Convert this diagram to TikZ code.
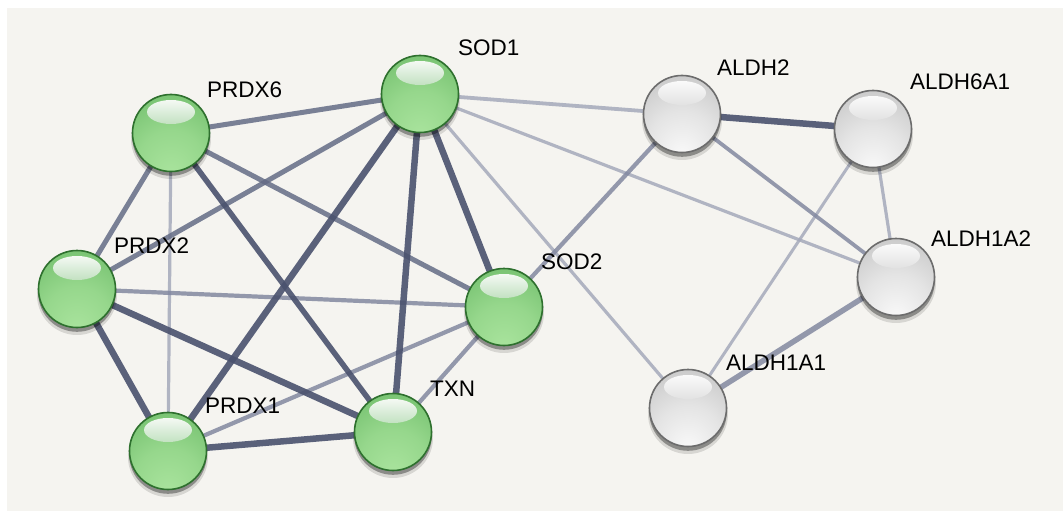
\documentclass[tikz,border=0pt]{standalone}
\usepackage{fontspec}
\setmainfont{Liberation Sans}
\usetikzlibrary{fadings}
\definecolor{bggray}{RGB}{245,244,240}
\definecolor{gA}{RGB}{170,228,158}
\definecolor{gA2}{RGB}{150,215,140}
\definecolor{gB}{RGB}{104,184,100}
\definecolor{gC}{RGB}{76,152,76}
\definecolor{grim}{RGB}{46,112,46}
\definecolor{ghl}{RGB}{98,178,94}
\definecolor{hA}{RGB}{250,250,250}
\definecolor{hA2}{RGB}{228,228,228}
\definecolor{hB}{RGB}{188,188,188}
\definecolor{hC}{RGB}{142,142,142}
\definecolor{hrim}{RGB}{108,108,108}
\definecolor{hhl}{RGB}{180,180,180}
\definecolor{edark}{RGB}{74,82,110}
\definecolor{emid}{RGB}{100,108,134}
\definecolor{elite}{RGB}{130,136,160}
\definecolor{efaint}{RGB}{165,169,186}
\pgfdeclareradialshading{greenshade}{\pgfpoint{0bp}{-28bp}}{color(0bp)=(gA); color(22bp)=(gA2); color(50bp)=(gB); color(80bp)=(gC)}
\pgfdeclareradialshading{grayshade}{\pgfpoint{0bp}{-28bp}}{color(0bp)=(hA); color(22bp)=(hA2); color(50bp)=(hB); color(80bp)=(hC)}
\pgfdeclarelayer{bg}
\pgfdeclarelayer{edges}
\pgfdeclarelayer{shadowlayer}
\pgfsetlayers{bg,edges,shadowlayer,main}
\tikzset{
  ballbase/.style={circle, minimum size=77pt, inner sep=0pt, line width=1.6pt,
    path picture={\shade[top color=white, bottom color=#1]
      ([yshift=21pt]path picture bounding box.center) ellipse [x radius=24pt, y radius=12pt];}},
  greenball/.style={ballbase=ghl, shade, shading=greenshade, draw=grim},
  grayball/.style={ballbase=hhl, shade, shading=grayshade, draw=hrim},
  ballshadow/.style={fill=black, fill opacity=0.35},
  ballshadowsoft/.style={fill=black, fill opacity=0.12},
  lbl/.style={anchor=west, inner sep=0pt, text=black, font=\fontsize{22.5}{27}\selectfont},
  ethick/.style={draw=edark, line width=6.5pt, draw opacity=0.9},
  emedium/.style={draw=emid, line width=5pt, draw opacity=0.85},
  elight/.style={draw=elite, line width=4.2pt, draw opacity=0.85},
  efaintl/.style={draw=efaint, line width=3.2pt, draw opacity=0.85}
}
\begin{document}
\begin{tikzpicture}[x=1pt, y=-1pt]
\useasboundingbox (0,0) rectangle (1063,511);
\begin{pgfonlayer}{bg}
  \fill[white] (0,0) rectangle (1063,511);
  \fill[bggray] (7,8) rectangle (1063,511);
\end{pgfonlayer}
% nodes
\node[greenball] (SOD1) at (420,94) {};
\node[greenball] (PRDX6) at (171,133) {};
\node[greenball] (PRDX2) at (77,289) {};
\node[greenball] (PRDX1) at (168,451) {};
\node[greenball] (TXN) at (393,432) {};
\node[greenball] (SOD2) at (504,307) {};
\node[grayball] (ALDH2) at (682,114) {};
\node[grayball] (ALDH6A1) at (873,129) {};
\node[grayball] (ALDH1A2) at (896,277) {};
\node[grayball] (ALDH1A1) at (688,408) {};
% shadows
\begin{pgfonlayer}{shadowlayer}
  \foreach \n in {SOD1,PRDX6,PRDX2,PRDX1,TXN,SOD2,ALDH2,ALDH6A1,ALDH1A2,ALDH1A1}{
    \fill[ballshadowsoft] ([yshift=-6pt]\n.center) circle (40pt);
    \fill[ballshadow] ([yshift=-4pt]\n.center) circle (38.8pt);
  }
\end{pgfonlayer}
% edges
\begin{pgfonlayer}{edges}
  \draw[efaintl] (SOD1.center) -- (ALDH1A1.center);
  \draw[efaintl] (SOD1.center) -- (ALDH1A2.center);
  \draw[efaintl, line width=3.8pt] (SOD1.center) -- (ALDH2.center);
  \draw[efaintl] (ALDH6A1.center) -- (ALDH1A2.center);
  \draw[efaintl, line width=3pt] (ALDH6A1.center) -- (ALDH1A1.center);
  \draw[elight, line width=3.8pt] (ALDH2.center) -- (ALDH1A2.center);
  \draw[efaintl] (PRDX6.center) -- (PRDX1.center);
  \draw[elight] (ALDH2.center) -- (SOD2.center);
  \draw[elight, line width=5.5pt] (ALDH1A2.center) -- (ALDH1A1.center);
  \draw[elight] (PRDX2.center) -- (SOD2.center);
  \draw[elight] (PRDX1.center) -- (SOD2.center);
  \draw[elight] (TXN.center) -- (SOD2.center);
  \draw[emedium] (PRDX6.center) -- (SOD1.center);
  \draw[emedium] (PRDX6.center) -- (PRDX2.center);
  \draw[emedium] (SOD1.center) -- (PRDX2.center);
  \draw[emedium] (PRDX6.center) -- (SOD2.center);
  \draw[ethick, line width=5.5pt] (PRDX6.center) -- (TXN.center);
  \draw[ethick] (SOD1.center) -- (PRDX1.center);
  \draw[ethick] (SOD1.center) -- (TXN.center);
  \draw[ethick] (SOD1.center) -- (SOD2.center);
  \draw[ethick] (PRDX2.center) -- (TXN.center);
  \draw[ethick] (PRDX2.center) -- (PRDX1.center);
  \draw[ethick] (PRDX1.center) -- (TXN.center);
  \draw[ethick] (ALDH2.center) -- (ALDH6A1.center);
\end{pgfonlayer}
% labels
\node[lbl] (lSOD1) at (458,48) {SOD1};
\node[lbl] (lPRDX6) at (207,90) {PRDX6};
\node[lbl] (lPRDX2) at (114,246) {PRDX2};
\node[lbl] (lPRDX1) at (205,406) {PRDX1};
\node[lbl] (lTXN) at (430,389) {TXN};
\node[lbl] (lSOD2) at (541,262) {SOD2};
\node[lbl] (lALDH2) at (717,68) {ALDH2};
\node[lbl] (lALDH6A1) at (910,82) {ALDH6A1};
\node[lbl] (lALDH1A2) at (931,239) {ALDH1A2};
\node[lbl] (lALDH1A1) at (726,363) {ALDH1A1};
\end{tikzpicture}
\end{document}
